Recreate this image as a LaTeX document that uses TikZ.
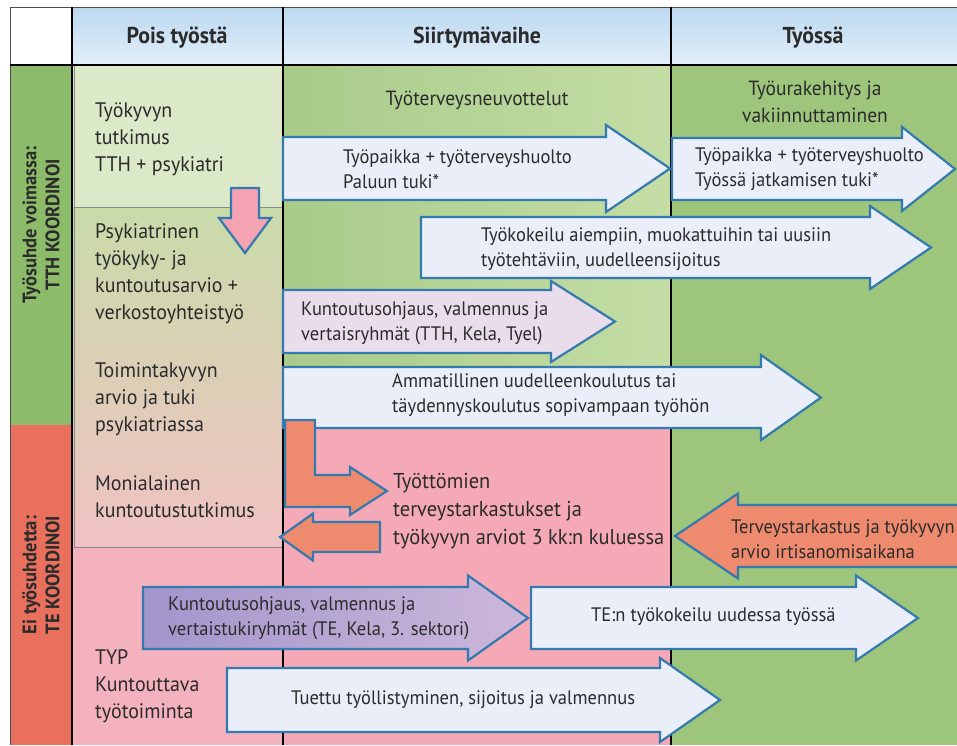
\documentclass[tikz,border=0pt]{standalone}
\usepackage{fontspec}
\setmainfont{PT Sans}[FakeStretch=0.95]
\definecolor{txt}{HTML}{2B2B2B}
\definecolor{hdtop}{HTML}{BCD8EF}
\definecolor{hdbot}{HTML}{E2EFFA}
\definecolor{lblgreen}{HTML}{8CBB69}
\definecolor{lblred}{HTML}{E8705C}
\definecolor{paleg}{HTML}{DCE9C9}
\definecolor{midtop}{HTML}{C8DBA9}
\definecolor{midbot}{HTML}{F0C2C3}
\definecolor{pinkbg}{HTML}{F4B2BF}
\definecolor{siirg1}{HTML}{A8CB89}
\definecolor{siirg2}{HTML}{C4DDA6}
\definecolor{siirp}{HTML}{F5A9B6}
\definecolor{tyog}{HTML}{9DC67C}
\definecolor{arrline}{HTML}{3579B1}
\definecolor{arrfill}{HTML}{E9EEF8}
\definecolor{lavfill}{HTML}{E9DCEB}
\definecolor{salmon}{HTML}{EE8A6E}
\definecolor{pinkarr}{HTML}{F4A3B3}
\definecolor{purp1}{HTML}{A295CB}
\definecolor{purp2}{HTML}{CDB8DA}
\definecolor{greyline}{HTML}{8A8A8A}
\newcommand\rblock[7]{%
  \path[#1] (#2,#5-#6) -- (#3,#5-#6) -- (#3,#5-#7) -- (#4,#5) -- (#3,#5+#7) -- (#3,#5+#6) -- (#2,#5+#6) -- cycle;}
\tikzset{
  hdtxt/.style={font=\bfseries\fontsize{23}{27}\selectfont, text=txt, inner sep=0pt},
  coltxt/.style={font=\fontsize{21}{27}\selectfont, text=txt, align=left, anchor=west, inner sep=0pt},
  arrtxt/.style={font=\fontsize{19.5}{25}\selectfont, text=txt, align=left, anchor=west, inner sep=0pt},
  rowlbl/.style={font=\bfseries\fontsize{19.5}{23}\selectfont, rotate=90, align=center, text=txt, inner sep=0pt},
  blk/.style={draw=arrline, line width=2.2pt, line join=miter},
  divider/.style={draw=black, line width=2.6pt},
}
\begin{document}
\begin{tikzpicture}[x=1pt,y=-1pt]
\useasboundingbox (0,0) rectangle (957,745);
\fill[white] (0,0) rectangle (957,745);
% header
\shade[top color=hdtop, bottom color=hdbot] (72,7) rectangle (957,65);
% label column
\fill[lblgreen] (10,65) rectangle (72,425);
\fill[lblred] (10,425) rectangle (72,745);
% Pois tyosta column
\fill[paleg] (72,65) rectangle (283,207);
\shade[top color=midtop, bottom color=midbot] (72,207) rectangle (283,547);
\fill[pinkbg] (72,547) rectangle (283,745);
% Siirtymavaihe column
\shade[left color=siirg1, right color=siirg2] (283,65) rectangle (671,425);
\fill[siirp] (283,425) rectangle (671,745);
% Tyossa column
\fill[tyog] (671,65) rectangle (957,745);
% grey box lines
\draw[greyline, line width=1pt] (74,65) -- (74,547) -- (283,547);
\draw[greyline, line width=1pt] (74,207) -- (283,207);
% frame and dividers
\draw[black!70, line width=1pt] (10,745) -- (10,7) -- (957,7);
\draw[divider] (72,7) -- (72,745);
\draw[divider] (283,7) -- (283,745);
\draw[divider] (671,7) -- (671,745);
\draw[divider] (10,65) -- (957,65);

% header texts
\node[hdtxt] (h1) at (177,38) {Pois työstä};
\node[hdtxt] (h2) at (477,38) {Siirtymävaihe};
\node[hdtxt] (h3) at (813,38) {Työssä};

% row labels
\node[rowlbl] (r1) at (41,225) {Työsuhde voimassa:\\TTH KOORDINOI};
\node[rowlbl] (r2) at (41,575) {Ei työsuhdetta:\\TE KOORDINOI};

% column texts
\node[coltxt] (c1) at (95,139) {Työkyvyn\\tutkimus\\TTH + psykiatri};
\node[coltxt] (c2) at (95,274) {Psykiatrinen\\työkyky- ja\\kuntoutusarvio +\\verkostoyhteistyö};
\node[coltxt] (c3) at (95,399) {Toimintakyvyn\\arvio ja tuki\\psykiatriassa};
\node[coltxt] (c4) at (95,497) {Monialainen\\kuntoutustutkimus};
\node[coltxt] (c5) at (95,686) {TYP\\Kuntouttava\\työtoiminta};

\node[font=\fontsize{20.5}{24}\selectfont, text=txt, inner sep=0pt] (s1) at (477,100) {Työterveysneuvottelut};
\node[font=\fontsize{20.5}{27}\selectfont, text=txt, align=center, inner sep=0pt] (s2) at (815,102) {Työurakehitys ja\\vakiinnuttaminen};

% down arrow
\path[blk, fill=pinkarr] (231,188) -- (259,188) -- (259,218) -- (271,218) -- (245,253) -- (219,218) -- (231,218) -- cycle;

% block arrows
\rblock{blk, fill=arrfill}{283}{606}{670}{168.5}{31.5}{43.5}
\node[arrtxt] (a1) at (343,169) {Työpaikka + työterveyshuolto\\Paluun tuki*};
\rblock{blk, fill=arrfill}{672}{902}{955}{169}{31}{42}
\node[arrtxt] (a2) at (695,169) {Työpaikka + työterveyshuolto\\Työssä jatkamisen tuki*};
\rblock{blk, fill=arrfill}{421}{870}{931}{247.5}{30.5}{41.5}
\node[arrtxt] (a3) at (481,249) {Työkokeilu aiempiin, muokattuihin tai uusiin\\työtehtäviin, uudelleensijoitus};
\rblock{blk, fill=lavfill}{283}{551}{615}{321.5}{31.5}{40.5}
\node[arrtxt] (a4) at (301,323) {Kuntoutusohjaus, valmennus ja\\vertaisryhmät (TTH, Kela, Tyel)};
\rblock{blk, fill=arrfill}{283}{761}{821}{397.5}{30.5}{42.5}
\node[arrtxt] (a5) at (392,395) {Ammatillinen uudelleenkoulutus tai\\täydennyskoulutus sopivampaan työhön};

% L-shaped salmon arrow
\path[blk, fill=salmon] (285,420) -- (315,420) -- (315,475) -- (350,475) -- (350,467) -- (387,491) -- (350,515) -- (350,507) -- (285,507) -- cycle;
% small left salmon arrow
\rblock{blk, fill=salmon}{380}{313}{280}{537}{15}{23.5}
\node[font=\fontsize{21.5}{28}\selectfont, text=txt, align=left, anchor=west, inner sep=0pt] (tt) at (393,511) {Työttömien\\terveystarkastukset ja\\työkyvyn arviot 3 kk:n kuluessa};

% right side left-pointing salmon arrow
\rblock{blk, fill=salmon}{962}{738}{675}{536}{31}{42.5}
\node[arrtxt] (a9) at (731,539) {Terveystarkastus ja työkyvyn\\arvio irtisanomisaikana};

% purple arrow
\rblock{blk, left color=purp1, right color=purp2}{143}{468}{528}{618}{31}{42.5}
\node[arrtxt] (a6) at (168,618) {Kuntoutusohjaus, valmennus ja\\vertaistukiryhmät (TE, Kela, 3. sektori)};
\rblock{blk, fill=arrfill}{531}{856}{918}{618}{31}{42.5}
\node[arrtxt] (a7) at (591,617) {TE:n työkokeilu uudessa työssä};
\rblock{blk, fill=arrfill}{227}{660}{720}{700}{32}{42}
\node[arrtxt] (a8) at (291,700) {Tuettu työllistyminen, sijoitus ja valmennus};
\end{tikzpicture}
\end{document}
